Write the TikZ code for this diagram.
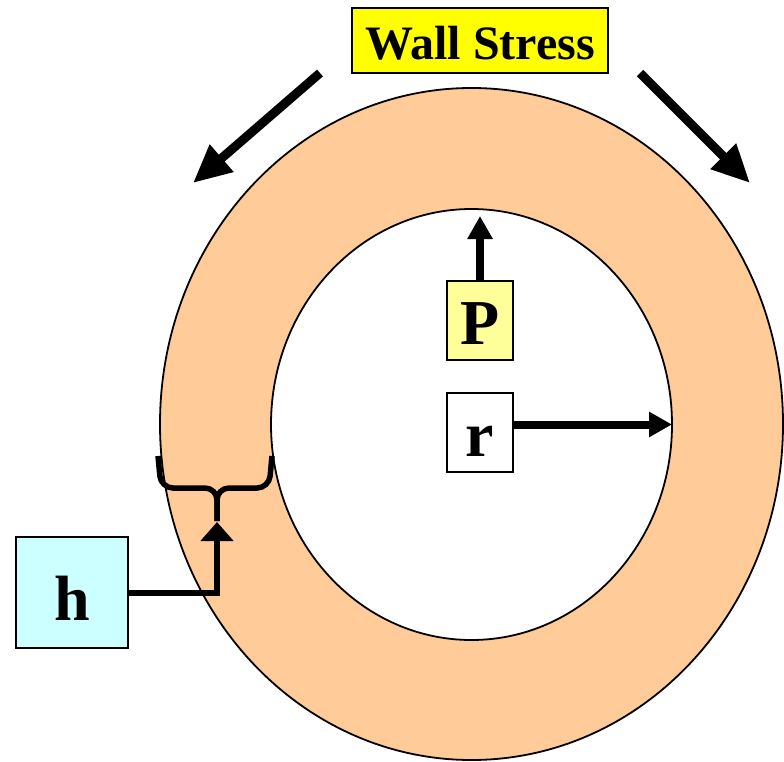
\documentclass[tikz,border=0pt]{standalone}
\usepackage{fontspec}
\setmainfont{Liberation Serif}
\usetikzlibrary{positioning,arrows.meta,shapes.geometric}

\definecolor{ringfill}{HTML}{FFCC99}
\definecolor{pfill}{HTML}{FFFF99}
\definecolor{hfill}{HTML}{CCFFFF}
\definecolor{wallfill}{HTML}{FFFF00}

\begin{document}
\begin{tikzpicture}[x=1pt, y=-1pt,
  ring/.style={ellipse, draw, line width=1.8pt, inner sep=0pt, outer sep=0pt},
  lbl/.style={draw, line width=2pt, inner sep=0pt, align=center, text height=60pt, text depth=12pt,
    font=\fontsize{64}{70}\selectfont\bfseries},
  arr/.style={-{Triangle[length=23pt, width=24pt]}, line width=8pt},
  bigarr/.style={-{Triangle[length=38pt, width=34pt]}, line width=9pt}
]
\useasboundingbox (0,0) rectangle (784,762);
% wall and cavity
\node[ring, fill=ringfill, minimum width=623pt, minimum height=672pt] (outer) at (471.5,424) {};
\node[ring, fill=white, minimum width=401pt, minimum height=431pt] (inner) at (471.5,424.5) {};
% labels
\node[lbl, fill=wallfill, minimum width=256pt, minimum height=65pt, text height=39pt, text depth=0pt,
  font=\fontsize{48}{52}\selectfont\bfseries] (wall) at (480,40.5) {Wall Stress};
\node[lbl, fill=pfill, minimum width=66pt, minimum height=79pt] (p) at (480,320.5) {P};
\node[lbl, fill=white, minimum width=66pt, minimum height=79pt] (r) at (480,432.5) {r};
\node[lbl, fill=hfill, minimum width=112pt, minimum height=111pt, text height=64pt, text depth=9pt] (h) at (72,592.5) {h};
% arrows
\coordinate (wl0) at (320,73);
\coordinate (wl1) at (193,183);
\coordinate (wr0) at (640,73);
\coordinate (wr1) at (750,183);
\draw[bigarr] (wl0) -- (wl1);
\draw[bigarr] (wr0) -- (wr1);
\draw[arr, shorten >=7pt] (p.north) -- (p.north |- inner.north);
\draw[arr] (r.east |- inner.center) -- (inner.east);
% thickness brace
\coordinate (bracetip) at (217,521);
\draw[line width=5.5pt, rounded corners=12pt] (158,456) -- (161,488) -- (217,488) -- (bracetip);
\draw[line width=5.5pt, rounded corners=12pt] (272,456) -- (269,488) -- (217,488) -- (bracetip);
\draw[{Triangle[length=19pt, width=32pt]}-, line width=6pt, shorten <=1pt] (bracetip) |- (h.east);
\end{tikzpicture}
\end{document}
